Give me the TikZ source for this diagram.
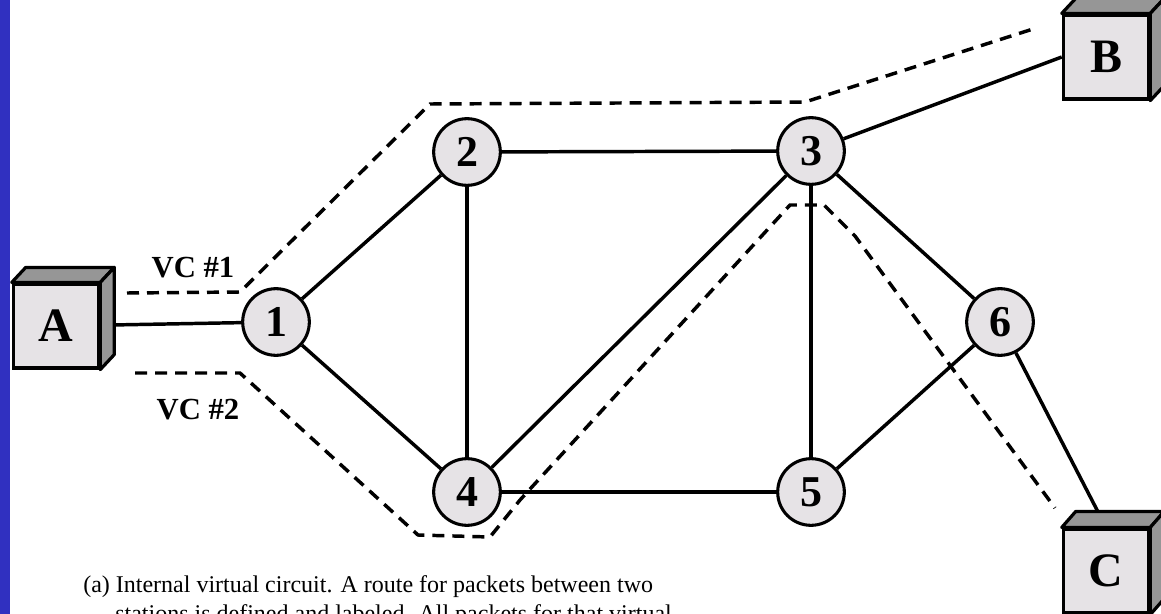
\documentclass[tikz,border=0pt]{standalone}
\usepackage{fontspec}
\setmainfont{Liberation Serif}
\usetikzlibrary{calc}
\definecolor{nodefill}{RGB}{230,227,230}
\definecolor{facegray}{RGB}{150,150,150}
\definecolor{stripblue}{RGB}{48,48,192}
\tikzset{
  router/.style={circle, draw, line width=2.3pt, fill=nodefill, minimum size=50pt, inner sep=0pt,
    font=\fontsize{33}{33}\selectfont\bfseries},
  station/.style={rectangle, draw, line width=2.4pt, fill=nodefill, inner sep=0pt,
    minimum width=64pt, minimum height=63pt, font=\fontsize{36}{36}\selectfont\bfseries},
  link/.style={line width=2.6pt},
  vcpath/.style={line width=2.6pt, dash pattern=on 9pt off 6pt},
  face/.style={fill=facegray, draw=black, line width=2.4pt, line join=round},
  vclabel/.style={font=\fontsize{23}{23}\selectfont\bfseries},
  captext/.style={anchor=base west, inner sep=0pt, font=\fontsize{18}{21}\selectfont},
}
\newcommand{\stationfaces}[3]{%
  \path[face] (#1.north west) -- ++(#2,-#3) -- ($(#1.north east)+(#2,-#3)$) -- (#1.north east) -- cycle;
  \path[face] (#1.north east) -- ++(#2,-#3) -- ($(#1.south east)+(#2,-#3)$) -- (#1.south east) -- cycle;
}
\begin{document}
\begin{tikzpicture}[x=0.75pt,y=-0.75pt]
\useasboundingbox (0,0) rectangle (1161,614);
\clip (0,0) rectangle (1161,614);
\fill[stripblue] (0,0) rectangle (10,614);

% routers
\node[router] (n1) at (276,322) {1};
\node[router] (n2) at (467,152) {2};
\node[router] (n3) at (811,151) {3};
\node[router] (n4) at (467,492) {4};
\node[router] (n5) at (811,492) {5};
\node[router] (n6) at (1000,322) {6};

% stations
\node[station] (A) at (56,326) {A};
\node[station] (B) at (1106,57) {B};
\node[station] (C) at (1106,571) {C};

% links
\draw[link] (A) -- (n1);
\draw[link] (n1) -- (n2);
\draw[link] (n1) -- (n4);
\draw[link] (n2) -- (n3);
\draw[link] (n2) -- (n4);
\draw[link] (n4) -- (n3);
\draw[link] (n4) -- (n5);
\draw[link] (n3) -- (n5);
\draw[link] (n3) -- (n6);
\draw[link] (n5) -- (n6);
\draw[link] (n3) -- (B.west);
\draw[link] (n6) -- (C.north);

\stationfaces{A}{14}{15}
\stationfaces{B}{14}{15}
\stationfaces{C}{14}{16}

% virtual circuits
\draw[vcpath] (127,293) -- (240,292) -- (430,104) -- (805,102) -- (1033,29);
\draw[vcpath] (135,373) -- (240,373) -- (418,535) -- (490,537) -- (520,500) -- (790,205) -- (824,205) -- (855,236) -- (1055,508);

\node[vclabel] (vc1) at (193,268) {VC \#1};
\node[vclabel] (vc2) at (198,410) {VC \#2};

% caption
\node[captext] (cap1) at (83,592) {(a) Internal virtual circuit. A route for packets between two};
\node[captext] (cap2) at (115,621) {stations is defined and labeled. All packets for that virtual};
\end{tikzpicture}
\end{document}
